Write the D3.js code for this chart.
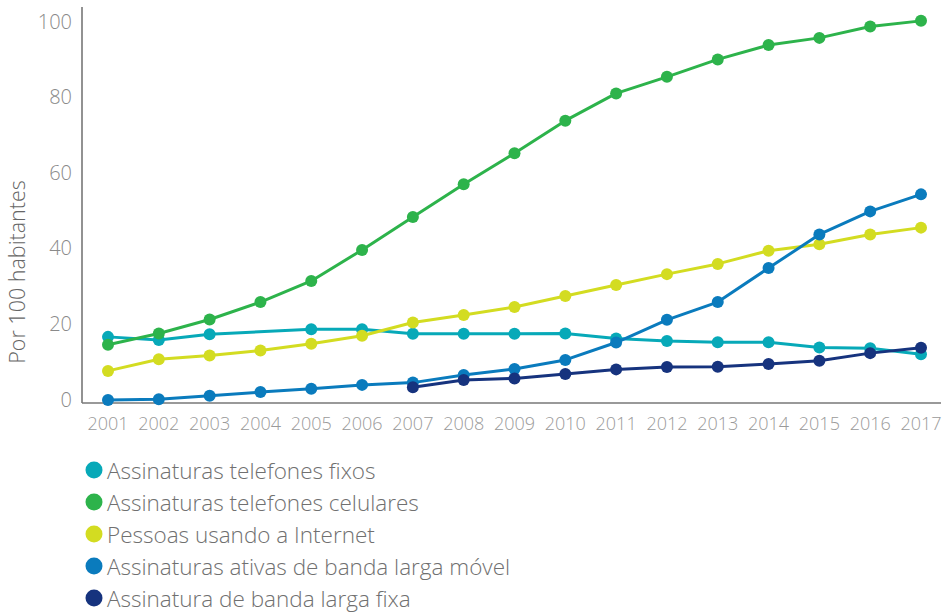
<!DOCTYPE html>
<html>
<head>
<meta charset="utf-8">
<script src="https://cdn.jsdelivr.net/npm/d3@7"></script>
<style>
  html, body { margin: 0; padding: 0; background: #fff; }
  svg { display: block; font-family: "Open Sans", sans-serif; }
</style>
</head>
<body>
<svg id="chart" width="943" height="612"></svg>
<script>
const years = [2001,2002,2003,2004,2005,2006,2007,2008,2009,2010,2011,2012,2013,2014,2015,2016,2017];
const yTicks = [0,20,40,60,80,100];

const fixedPhones   = [16.7,15.9,17.4,null,18.7,18.7,17.5,17.5,17.5,17.6,16.3,15.6,15.3,15.3,13.9,13.7,12.1];
const mobilePhones  = [14.6,17.6,21.3,25.9,31.5,39.7,48.4,57.1,65.3,73.9,81.1,85.5,90.1,93.9,95.8,98.8,100.3];
const internetUsers = [7.7,10.8,11.8,13.1,14.9,17.0,20.5,22.5,24.6,27.5,30.4,33.3,36.0,39.5,41.2,43.8,45.6];
const mobileBroadband = [0.0,0.2,1.1,2.1,3.0,4.0,4.6,6.6,8.2,10.6,15.2,21.2,25.9,34.9,43.8,49.9,54.4];
const fixedBroadband  = [null,null,null,null,null,null,3.4,5.3,5.7,6.9,8.1,8.7,8.8,9.5,10.4,12.4,13.8];

const seriesNames = [
  "Assinaturas telefones fixos",
  "Assinaturas telefones celulares",
  "Pessoas usando a Internet",
  "Assinaturas ativas de banda larga móvel",
  "Assinatura de banda larga fixa"
];
const seriesValues = [fixedPhones, mobilePhones, internetUsers, mobileBroadband, fixedBroadband];
const colors = ["#07a9b8", "#2db34b", "#d3dc21", "#0a7bbd", "#16337e"];

const svg = d3.select("#chart");
const x = d3.scaleLinear().domain([2001, 2017]).range([108, 921]);
const y = d3.scaleLinear().domain([0, 100]).range([400, 22]);

const axisColor = "#777";
// axis lines
svg.append("line").attr("x1", 82).attr("x2", 82).attr("y1", 7).attr("y2", 403)
  .attr("stroke", axisColor).attr("stroke-width", 1.6);
svg.append("line").attr("x1", 82).attr("x2", 941).attr("y1", 403).attr("y2", 403)
  .attr("stroke", axisColor).attr("stroke-width", 1.6);

// y ticks
svg.append("g").selectAll("text").data(yTicks).join("text")
  .attr("x", 72).attr("y", d => y(d) - 1)
  .attr("text-anchor", "end").attr("dominant-baseline", "central")
  .attr("font-size", 20).attr("font-weight", 300).attr("fill", "#8a8a8a")
  .text(d => d);

// x ticks
svg.append("g").selectAll("text").data(years).join("text")
  .attr("x", d => x(d)).attr("y", 423)
  .attr("text-anchor", "middle").attr("dominant-baseline", "central")
  .attr("font-size", 18).attr("font-weight", 300).attr("fill", "#9a9a9a")
  .text(d => d);

// y title
svg.append("text")
  .attr("transform", "translate(25,272) rotate(-90)")
  .attr("text-anchor", "middle")
  .attr("font-size", 21.5).attr("font-weight", 300).attr("fill", "#666")
  .text("Por 100 habitantes");

// lines
const line = d3.line()
  .x(d => x(d.year)).y(d => y(d.v));

seriesValues.forEach((vals, i) => {
  const pts = years.map((yr, j) => ({ year: yr, v: vals[j] }));
  const valid = pts.filter(d => d.v !== null);
  const g = svg.append("g");
  g.append("path").datum(valid)
    .attr("d", line)
    .attr("fill", "none").attr("stroke", colors[i]).attr("stroke-width", 3)
    .attr("stroke-linejoin", "round");
  g.selectAll("circle").data(valid).join("circle")
    .attr("cx", d => x(d.year)).attr("cy", d => y(d.v))
    .attr("r", 6).attr("fill", colors[i]);
});

// legend
const legend = svg.append("g");
seriesNames.forEach((name, i) => {
  const ly = 470 + i * 32;
  legend.append("circle").attr("cx", 94).attr("cy", ly).attr("r", 8.5).attr("fill", colors[i]);
  legend.append("text").attr("x", 107).attr("y", ly)
    .attr("dominant-baseline", "central")
    .attr("font-size", 22.5).attr("font-weight", 300).attr("fill", "#707070")
    .text(name);
});
</script>
</body>
</html>
